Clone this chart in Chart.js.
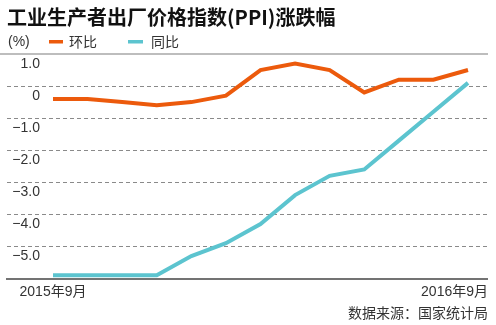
<!DOCTYPE html>
<html>
<head>
<meta charset="utf-8">
<script src="https://cdn.jsdelivr.net/npm/chart.js@4.4.0/dist/chart.umd.min.js"></script>
<style>
    body { margin: 0; background: #fff; }
    #box { width: 496px; height: 325px; position: relative; }
</style>
</head>
<body>
<div id="box"><canvas id="grafico"></canvas></div>
<script>
// dati
var mesi = ['2015-09', '2015-10', '2015-11', '2015-12', '2016-01', '2016-02', '2016-03',
            '2016-04', '2016-05', '2016-06', '2016-07', '2016-08', '2016-09'];
var huanbi = [-0.4, -0.4, -0.5, -0.6, -0.5, -0.3, 0.5, 0.7, 0.5, -0.2, 0.2, 0.2, 0.5];
var tongbi = [-5.9, -5.9, -5.9, -5.9, -5.3, -4.9, -4.3, -3.4, -2.8, -2.6, -1.7, -0.8, 0.1];
var etichetteX = ['2015年9月', '2016年9月'];
var titolo = '工业生产者出厂价格指数(PPI)涨跌幅';
var fonte = '数据来源：国家统计局';

var arancio = '#ec5a0c';
var azzurro = '#5cc4cf';
var fontLatino = "'Liberation Sans', 'Noto Sans CJK SC', sans-serif";
var fontCjk = "'Noto Sans CJK SC', sans-serif";

var extra = {
    id: 'extra',
    beforeDatasetsDraw: function (chart) {
        var ctx = chart.ctx;
        var y = chart.scales.y;
        ctx.save();
        y.ticks.forEach(function (t) {
            var py = Math.round(y.getPixelForValue(t.value));
            ctx.beginPath();
            if (t.value === 1) {
                ctx.setLineDash([]);
                ctx.strokeStyle = '#bdbdbd';
                ctx.lineWidth = 2;
                ctx.moveTo(0, py);
            } else if (t.value === -6) {
                ctx.setLineDash([]);
                ctx.strokeStyle = '#444';
                ctx.lineWidth = 1.6;
                ctx.moveTo(6, py);
            } else {
                ctx.setLineDash([4, 3]);
                ctx.strokeStyle = '#8a8a8a';
                ctx.lineWidth = 1;
                py += 0.5;
                ctx.moveTo(7, py);
            }
            ctx.lineTo(488, py);
            ctx.stroke();
        });
        ctx.restore();
    },
    afterDraw: function (chart) {
        var ctx = chart.ctx;
        var x = chart.scales.x;
        ctx.save();
        ctx.textBaseline = 'middle';

        ctx.fillStyle = '#111';
        ctx.font = 'bold 20px ' + fontCjk;
        ctx.textAlign = 'left';
        ctx.fillText(titolo, 7, 17);

        ctx.fillStyle = '#333';
        ctx.font = '14px ' + fontLatino;
        ctx.fillText('(%)', 8, 42);

        ctx.fillStyle = arancio;
        ctx.fillRect(49, 40, 14, 3.5);
        ctx.fillStyle = azzurro;
        ctx.fillRect(128, 40, 15, 3.5);

        ctx.fillStyle = '#333';
        ctx.font = '14px ' + fontCjk;
        ctx.fillText('环比', 69, 42);
        ctx.fillText('同比', 151, 42);

        ctx.font = '14px ' + fontLatino;
        ctx.textAlign = 'center';
        ctx.fillText(etichetteX[0], x.getPixelForValue(0), 292);
        ctx.textAlign = 'right';
        ctx.fillText(etichetteX[1], 488, 292);

        ctx.font = '14px ' + fontCjk;
        ctx.fillText(fonte, 488, 313);
        ctx.restore();
    }
};

var ctx = document.getElementById('grafico');
var chart = new Chart(ctx, {
    type: 'line',
    data: {
        labels: mesi,
        datasets: [{
            label: '环比',
            data: huanbi,
            borderColor: arancio,
            borderWidth: 4,
            pointRadius: 0,
            tension: 0,
            clip: false
        }, {
            label: '同比',
            data: tongbi,
            borderColor: azzurro,
            borderWidth: 4,
            pointRadius: 0,
            tension: 0,
            clip: false
        }]
    },
    options: {
        responsive: true,
        maintainAspectRatio: false,
        animation: false,
        events: [],
        layout: { padding: { left: 0, right: 28, top: 54, bottom: 46.5 } },
        plugins: {
            legend: { display: false },
            tooltip: { enabled: false },
            title: { display: false }
        },
        scales: {
            x: { display: false },
            y: {
                min: -6,
                max: 1,
                grid: { display: false, drawTicks: false },
                border: { display: false },
                afterFit: function (scale) { scale.width = 53; },
                ticks: {
                    stepSize: 1,
                    padding: 13,
                    labelOffset: 10,
                    color: '#333',
                    font: { family: fontLatino, size: 14 },
                    callback: function (v) {
                        if (v === -6) return '';
                        if (v === 0) return '0';
                        if (v > 0) return v.toFixed(1);
                        return '\u2212' + Math.abs(v).toFixed(1);
                    }
                }
            }
        }
    },
    plugins: [extra]
});
</script>
</body>
</html>
